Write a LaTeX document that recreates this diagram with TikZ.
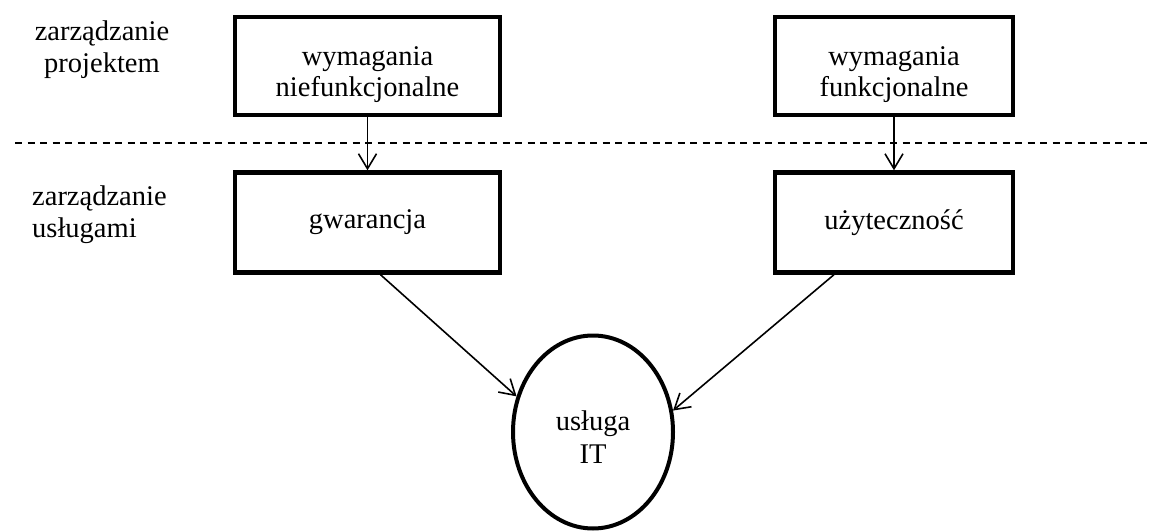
\documentclass[tikz,border=0pt]{standalone}
\usepackage{fontspec}
\setmainfont{Liberation Serif}
\usetikzlibrary{arrows.meta,shapes.geometric}
\begin{document}
\begin{tikzpicture}[x=1pt,y=-1pt,
  box/.style={draw,line width=4.4pt,rectangle,inner sep=0pt},
  txt/.style={align=center,inner sep=0pt,font=\fontsize{28.5}{31}\selectfont},
  side/.style={inner sep=0pt,font=\fontsize{28.5}{32}\selectfont},
  arr/.style={line width=1.6pt,-{Straight Barb[length=15pt,width=18pt]}},
  dashline/.style={line width=1.6pt,dash pattern=on 7pt off 5.5pt}]
\useasboundingbox (0,0) rectangle (1151,532);
% left labels
\node[side,align=center] (l1) at (102,49.5) {zarządzanie\\projektem};
\node[side,align=left,anchor=west] (l2) at (32,214.5) {zarządzanie\\usługami};
% boxes
\node[box,minimum width=265pt,minimum height=98pt] (b1) at (367.5,66) {};
\node[txt] (t1) at ([yshift=-9pt]b1.center) {wymagania\\niefunkcjonalne};
\node[box,minimum width=265pt,minimum height=100pt,txt,draw,line width=4.4pt] (b2) at (367.5,222.5) {gwarancja};
\node[box,minimum width=238pt,minimum height=98pt] (b3) at (894,66) {};
\node[txt] (t3) at ([yshift=-9pt]b3.center) {wymagania\\funkcjonalne};
\node[box,minimum width=238pt,minimum height=100pt,txt,draw,line width=4.4pt] (b4) at (894,222.5) {użyteczność};
% circle
\node[ellipse,draw,line width=4pt,minimum width=160pt,minimum height=193pt,inner sep=0pt] (c) at (593,432) {};
\node[txt,font=\fontsize{28.5}{33}\selectfont] (tc) at ([yshift=-5pt]c.center) {usługa\\IT};
% dashed separator
\coordinate (dl) at (15,143);
\coordinate (dr) at (1151,143);
\draw[dashline] (dl) -- (dr);
% connectors
\draw[arr] (b1.south) -- (b1.south |- b2.north);
\draw[arr] (b3.south) -- (b3.south |- b4.north);
\draw[arr] (b2.-76) -- (c.155);
\draw[arr] (b4.-139) -- (c.15);
\end{tikzpicture}
\end{document}
